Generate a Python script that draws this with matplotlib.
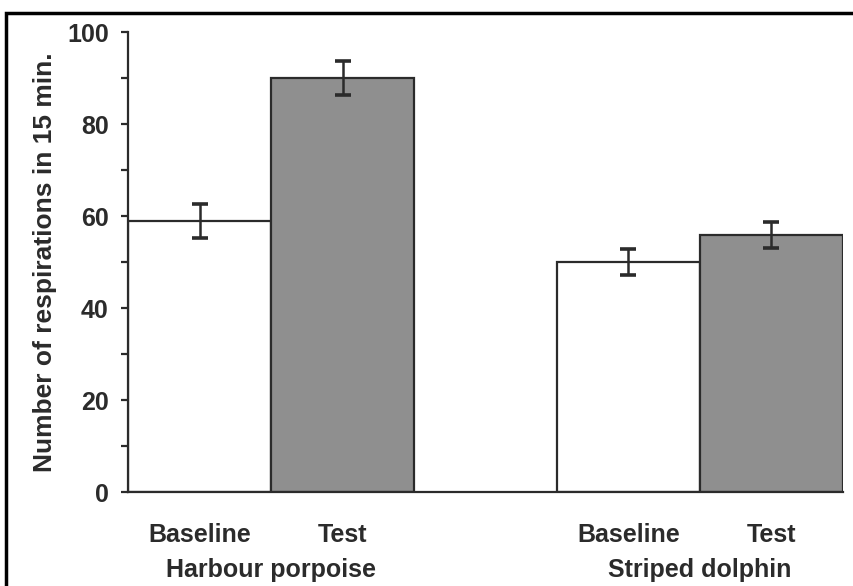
import matplotlib
matplotlib.use("Agg")
import matplotlib.pyplot as plt
from matplotlib.patches import Rectangle
import matplotlib.transforms as mtransforms

# respirations in 15 min, mean and error per condition
species = ["Harbour porpoise", "Striped dolphin"]
conditions = ["Baseline", "Test", "Baseline", "Test"]
means = [59.0, 90.0, 50.0, 56.0]
errors = [3.7, 3.7, 2.8, 2.8]
positions = [0.5, 1.5, 3.5, 4.5]
fills = ["white", "#8f8f8f", "white", "#8f8f8f"]

ink = "#2b2b2b"
plt.rcParams["font.family"] = ["Liberation Sans", "DejaVu Sans"]
plt.rcParams["font.weight"] = "bold"

fig = plt.figure(figsize=(8.54, 5.86), dpi=100)
ax = fig.add_axes([0.150, 0.160, 0.837, 0.785])

ax.bar(positions, means, width=1.0, color=fills, edgecolor=ink, linewidth=1.6, zorder=2)
ax.errorbar(positions, means, yerr=errors, fmt="none", ecolor=ink,
            elinewidth=1.8, capsize=5.5, capthick=2.6, zorder=3)

ax.set_xlim(0, 5)
ax.set_ylim(0, 100)
ax.set_yticks([0, 20, 40, 60, 80, 100])
ax.set_yticks([10, 30, 50, 70, 90], minor=True)
ax.tick_params(axis="y", which="both", direction="out", length=5, width=1.6,
               colors=ink, labelsize=18, pad=9)
ax.set_xticks(positions)
ax.set_xticklabels(conditions)
ax.tick_params(axis="x", length=0, labelsize=18, pad=22, colors=ink)
for lab in ax.get_xticklabels() + ax.get_yticklabels():
    lab.set_fontweight("bold")

for side in ["top", "right"]:
    ax.spines[side].set_visible(False)
for side in ["left", "bottom"]:
    ax.spines[side].set_color(ink)
    ax.spines[side].set_linewidth(1.6)

ax.set_ylabel("Number of respirations in 15 min.", fontsize=19, fontweight="bold",
              color=ink, labelpad=7)

# species names below the condition labels
trans = mtransforms.blended_transform_factory(ax.transData, fig.transFigure)
for name, x in zip(species, [1.0, 4.0]):
    ax.text(x, 1 - 570 / 586, name, transform=trans, ha="center", va="center",
            fontsize=18, fontweight="bold", color=ink)

# outer frame
fig.patches.append(Rectangle((6 / 854, -0.1), 1.2, 1.1 - 13 / 586,
                             transform=fig.transFigure, fill=False,
                             edgecolor="black", linewidth=2.5))

fig.savefig("out.png", dpi=100)
